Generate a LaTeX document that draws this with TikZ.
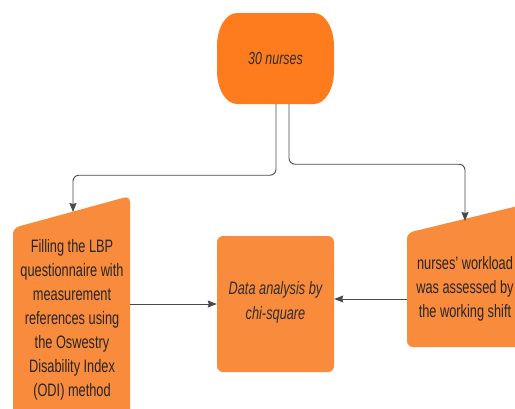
\documentclass[tikz,border=0pt]{standalone}
\usepackage{fontspec}
\setmainfont[FakeStretch=0.71]{Liberation Sans}
\usetikzlibrary{arrows.meta}
\definecolor{orangeA}{HTML}{FF7C1E}
\definecolor{orangeB}{HTML}{F98B3C}
\definecolor{txtA}{HTML}{2E2E2E}
\definecolor{lineC}{HTML}{4A4A4A}
\tikzset{
  toptext/.style={inner sep=0pt, text=txtA, font=\fontsize{17.5}{24}\selectfont\itshape},
  midbox/.style={fill=orangeB, rounded corners=6pt, minimum width=117pt, minimum height=136pt, inner sep=0pt},
  slantbox/.style={fill=orangeB, rounded corners=6pt},
  boxtext/.style={align=center, text=black!85, font=\fontsize{18}{23.9}\selectfont, inner sep=0pt},
  itext/.style={align=center, text=txtA, font=\fontsize{18}{25}\selectfont\itshape, inner sep=0pt},
  conn/.style={draw=lineC, line width=0.9pt, rounded corners=6pt, -{Stealth[length=9pt,width=7pt,inset=1pt]}},
}
\begin{document}
\begin{tikzpicture}[x=1pt,y=-1pt]
\useasboundingbox (0,0) rectangle (515,408);
\clip (0,0) rectangle (515,408);
% top terminator shape
\fill[orangeA] (237,13) -- (314,13) arc[start angle=-90, end angle=0, x radius=20, y radius=33]
  -- (334,71) arc[start angle=0, end angle=90, x radius=20, y radius=33]
  -- (237,104) arc[start angle=90, end angle=180, x radius=20, y radius=33]
  -- (217,46) arc[start angle=180, end angle=270, x radius=20, y radius=33] -- cycle;
\node[toptext, minimum width=117pt, minimum height=91pt] (top) at (275.5,58.5) {30 nurses};
% left slanted box
\path[slantbox] (13,228) -- (130,196) -- (130,430) -- (13,430) -- cycle;
\coordinate (lefttop) at (73,212);
\coordinate (leftE) at (130,304);
\node[boxtext] (lefttxt) at (72,320) {Filling the LBP\\questionnaire with\\measurement\\references using\\the Oswestry\\Disability Index\\(ODI) method};
% middle box
\node[midbox] (mid) at (275.5,304) {};
\node[itext] (midtxt) at (275.5,302.5) {Data analysis by\\chi-square};
% right slanted box
\path[slantbox] (407,233) -- (530,203) -- (530,347) -- (407,347) -- cycle;
\coordinate (righttop) at (465,221);
\coordinate (rightW) at (407,299);
\node[boxtext] (righttxt) at (465,289) {nurses' workload\\was assessed by\\the working shift};
% connectors
\draw[conn] ([xshift=0.5pt]top.south) -- ++(0,71) -| (lefttop);
\draw[conn] ([xshift=13.5pt]top.south) -- ++(0,60) -| (righttop);
\draw[conn] (leftE) -- (mid.west |- leftE);
\draw[conn] (rightW) -- (mid.east |- rightW);
\end{tikzpicture}
\end{document}
